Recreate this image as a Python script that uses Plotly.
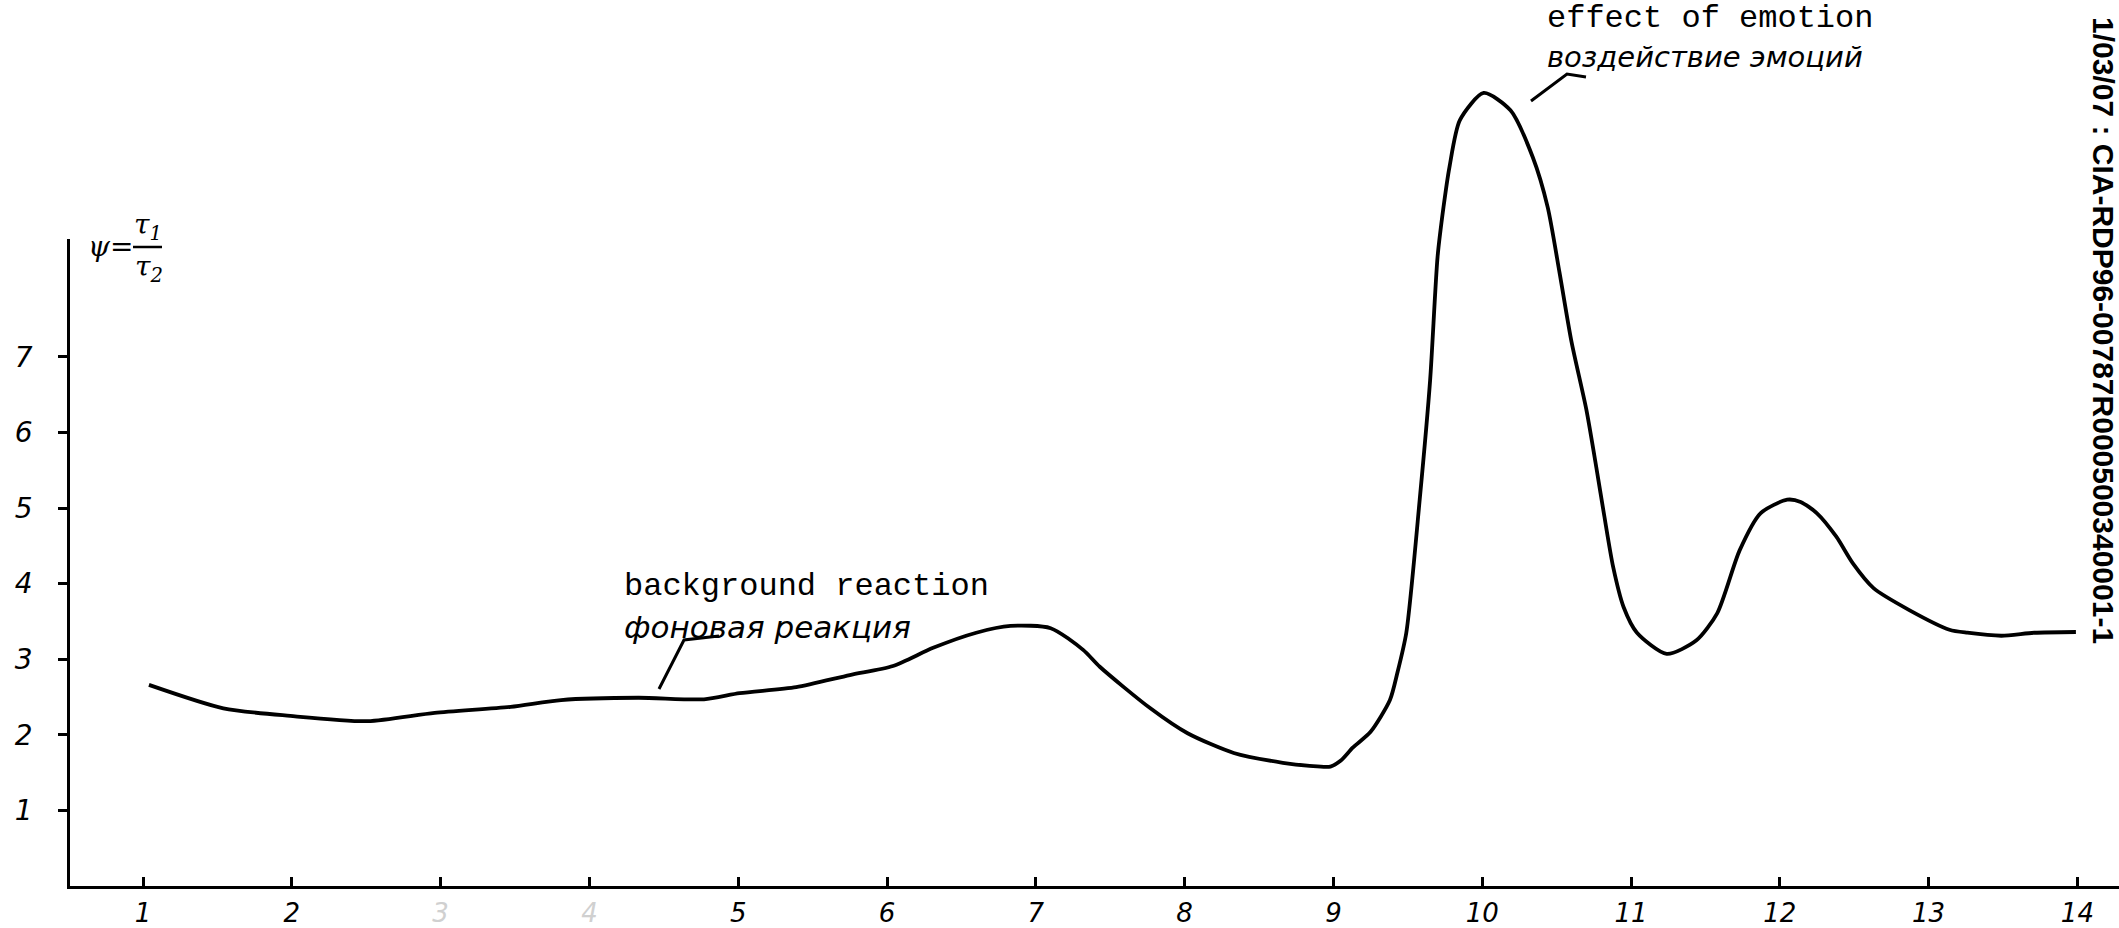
import plotly.graph_objects as go

# ---- data ----
x_vals = [1.04, 1.54, 1.99, 2.51, 2.96, 3.47, 3.81, 4.33, 4.77, 5.01, 5.39, 5.75, 6.04, 6.31,
          6.60, 6.83, 7.10, 7.32, 7.43, 7.77, 8.02, 8.33, 8.66, 8.84, 8.98, 9.05, 9.13, 9.25, 9.38,
          9.43, 9.49, 9.58, 9.65, 9.70, 9.74, 9.78, 9.85, 10.01, 10.19, 10.34, 10.44, 10.52,
          10.60, 10.70, 10.77, 10.82, 10.88, 10.95, 11.04, 11.24, 11.44, 11.58, 11.73, 11.87,
          12.05, 12.14, 12.25, 12.38, 12.49, 12.63, 12.87, 13.14, 13.26, 13.49, 13.71, 13.99]
y_vals = [2.66, 2.35, 2.25, 2.18, 2.29, 2.37, 2.46, 2.49, 2.47, 2.55, 2.63, 2.79, 2.91, 3.15,
          3.35, 3.44, 3.41, 3.12, 2.90, 2.35, 2.02, 1.76, 1.63, 1.59, 1.58, 1.66, 1.83, 2.04, 2.46,
          2.82, 3.35, 5.11, 6.69, 8.32, 8.98, 9.51, 10.13, 10.49, 10.26, 9.64, 8.98, 8.11,
          7.20, 6.30, 5.50, 4.90, 4.22, 3.69, 3.35, 3.07, 3.25, 3.61, 4.44, 4.93,
          5.11, 5.08, 4.93, 4.62, 4.27, 3.94, 3.65, 3.39, 3.35, 3.31, 3.35, 3.36]

x_ticks = list(range(1, 15))
x_labels = ["1", "2", "3", "4", "5", "6", "7", "8", "9", "10", "11", "12", "13", "14"]
y_ticks = [1, 2, 3, 4, 5, 6, 7]
y_labels = ["1", "2", "3", "4", "5", "6", "7"]
faint_labels = ["3", "4"]

# ---- geometry (pixel frame of the scanned sheet) ----
W, H = 2119, 928
PX_X1, PX_PER_X = 143.0, 148.8      # pixel of x=1, pixels per x unit
PX_Y0, PX_PER_Y = 886.0, 75.6       # pixel of y=0, pixels per y unit
AXIS_LEFT_PX, AXIS_TOP_PX = 70.0, 239.0


def dx(px):
    return 1 + (px - PX_X1) / PX_PER_X


def dy(py):
    return (PX_Y0 - py) / PX_PER_Y


tick_text = [f"<span style='color:#d0d0d0'>{t}</span>" if t in faint_labels else t for t in x_labels]

fig = go.Figure()
# invisible trace on the drawn-axes subplot
fig.add_trace(go.Scatter(x=[None], y=[None], xaxis="x", yaxis="y", showlegend=False, hoverinfo="skip"))
# the curve on a full-page overlay subplot with the same scale
fig.add_trace(go.Scatter(
    x=x_vals, y=y_vals, mode="lines", xaxis="x2", yaxis="y2",
    line=dict(color="black", width=3.8, shape="spline", smoothing=0.7),
    showlegend=False, hoverinfo="skip"))

hand_font = dict(family="DejaVu Sans", color="black", style="italic")

fig.update_layout(
    width=W, height=H, margin=dict(l=0, r=0, t=0, b=0),
    paper_bgcolor="white", plot_bgcolor="rgba(0,0,0,0)",
    showlegend=False,
    xaxis=dict(domain=[AXIS_LEFT_PX / W, 1], range=[dx(AXIS_LEFT_PX), dx(W)], anchor="y",
               tickvals=x_ticks, ticktext=tick_text, showline=True, linecolor="black",
               linewidth=3, ticks="inside", ticklen=9, tickwidth=2.5, tickcolor="black",
               showgrid=False, zeroline=False, fixedrange=True,
               tickfont=dict(size=26, **hand_font), ticklabelstandoff=2),
    yaxis=dict(domain=[(H - PX_Y0) / H, (H - AXIS_TOP_PX) / H], range=[0, dy(AXIS_TOP_PX)],
               anchor="x", tickvals=y_ticks, ticktext=y_labels, showline=True,
               linecolor="black", linewidth=2.5, ticks="outside", ticklen=9, tickwidth=2.5,
               tickcolor="black", showgrid=False, zeroline=False, fixedrange=True,
               tickfont=dict(size=28, **hand_font), ticklabelstandoff=20),
    xaxis2=dict(domain=[0, 1], range=[dx(0), dx(W)], anchor="y2", visible=False, fixedrange=True),
    yaxis2=dict(domain=[0, 1], range=[dy(H), dy(0)], anchor="x2", visible=False, fixedrange=True),
)

mono = dict(family="Liberation Mono", size=32, color="black")
script_a = dict(family="DejaVu Sans", size=31, color="black", style="italic")
script_b = dict(family="DejaVu Sans", size=29, color="black", style="italic")
greek = dict(family="DejaVu Serif", size=28, color="black", style="italic")

ann = [
    dict(text="background reaction", x=dx(622), y=dy(586), xanchor="left", yanchor="middle", font=mono),
    dict(text="фоновая реакция", x=dx(622), y=dy(627), xanchor="left", yanchor="middle", font=script_a),
    dict(text="effect of emotion", x=dx(1545), y=dy(18), xanchor="left", yanchor="middle", font=mono),
    dict(text="воздействие эмоций", x=dx(1545), y=dy(57), xanchor="left", yanchor="middle", font=script_b),
    dict(text="ψ=", x=dx(86), y=dy(246), xanchor="left", yanchor="middle", font=greek),
    dict(text="τ<sub>1</sub>", x=dx(148), y=dy(226), xanchor="center", yanchor="middle", font=greek),
    dict(text="τ<sub>2</sub>", x=dx(149), y=dy(268), xanchor="center", yanchor="middle", font=greek),
]
for a in ann:
    a.update(xref="x2", yref="y2", showarrow=False)
ann.append(dict(text="1/03/07 : CIA-RDP96-00787R000500340001-1", textangle=90,
                x=2104 / W, y=1 - 330 / H, xref="paper", yref="paper", xanchor="center",
                yanchor="middle", showarrow=False,
                font=dict(family="Liberation Sans", size=30, color="black", weight="bold")))
fig.update_layout(annotations=ann)

line_style = dict(color="black", width=3)
fig.update_layout(shapes=[
    # leader to the emotion peak
    dict(type="path", xref="x2", yref="y2",
         path=f"M {dx(1531)},{dy(101)} L {dx(1567)},{dy(74)} L {dx(1586)},{dy(77)}", line=line_style),
    # leader to the background curve
    dict(type="path", xref="x2", yref="y2",
         path=f"M {dx(659)},{dy(689)} L {dx(684)},{dy(640)} L {dx(719)},{dy(636)}", line=line_style),
    # fraction bar of psi = tau1 / tau2
    dict(type="line", xref="x2", yref="y2", x0=dx(133), x1=dx(162), y0=dy(247), y1=dy(247),
         line=dict(color="black", width=2.5)),
])

fig.write_html(
    "out.html",
    config={"displayModeBar": False},
    post_script="document.documentElement.style.margin='0';document.body.style.margin='0';"
                "document.body.style.overflow='hidden';",
)
